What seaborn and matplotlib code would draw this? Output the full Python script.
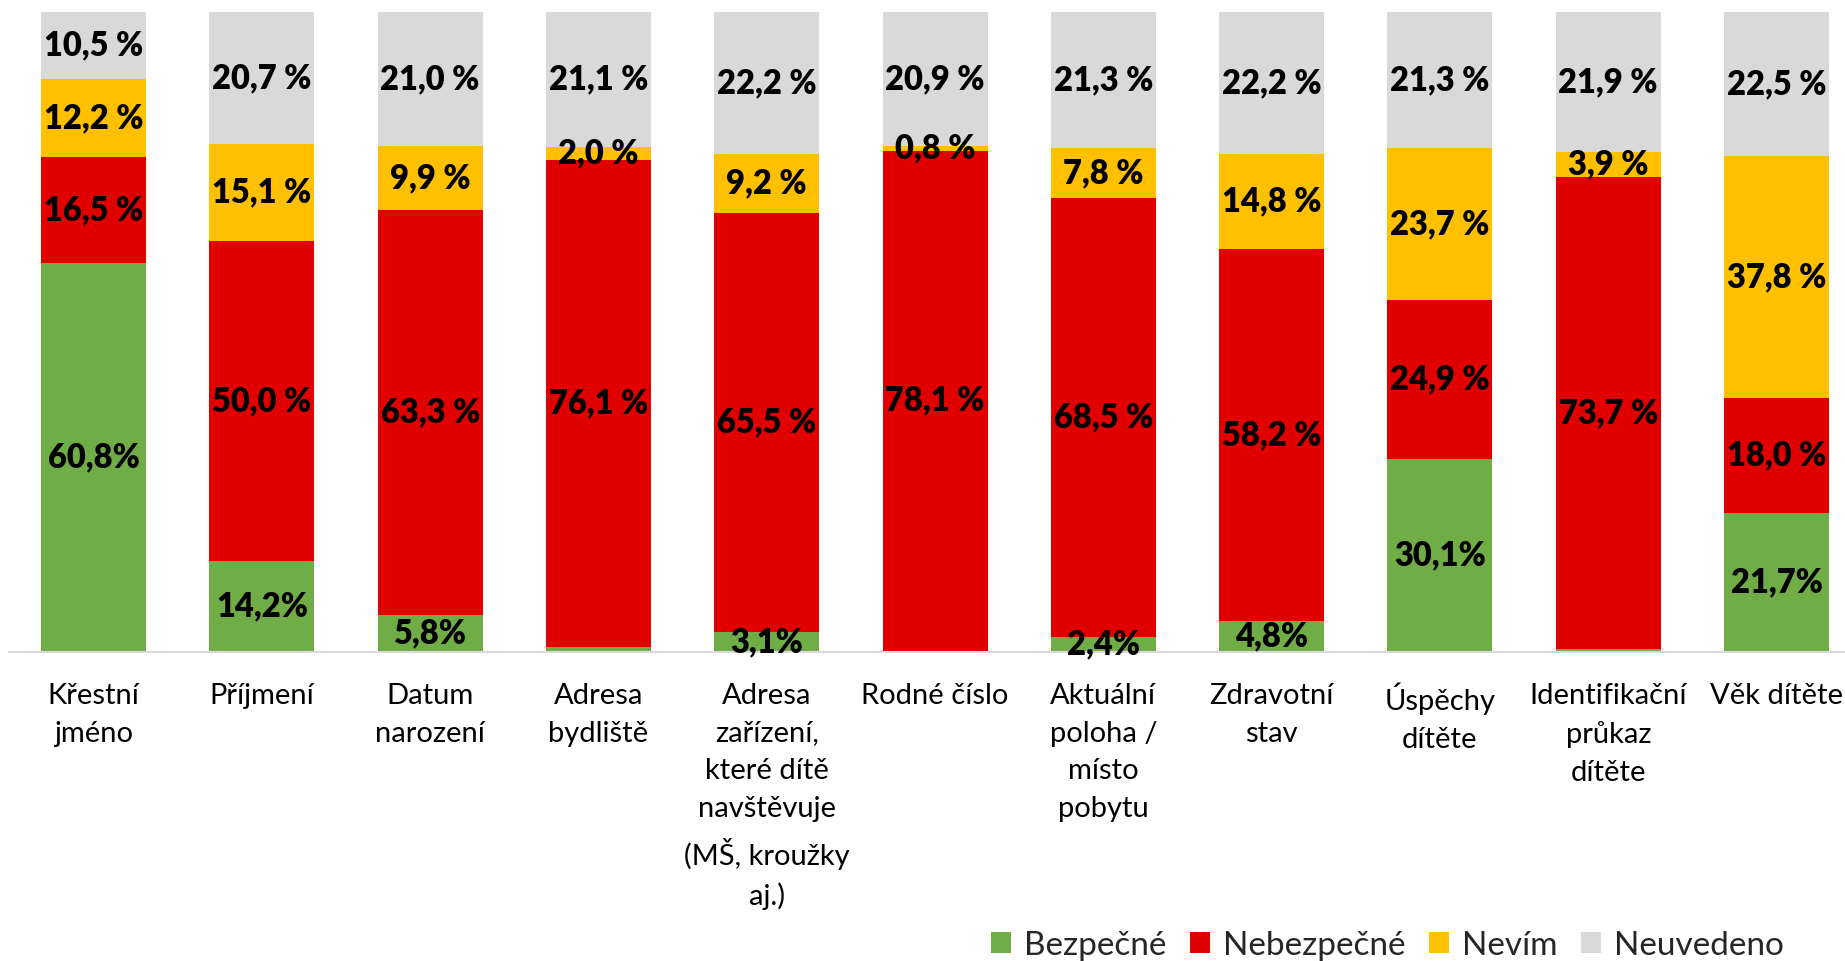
import matplotlib
matplotlib.use("Agg")
import matplotlib.pyplot as plt
import seaborn as sns
import numpy as np
import pandas as pd
from matplotlib.patches import Patch

categories = ["Křestní\njméno", "Příjmení", "Datum\nnarození", "Adresa\nbydliště",
              "Adresa\nzařízení,\nkteré dítě\nnavštěvuje\n(MŠ, kroužky\naj.)",
              "Rodné číslo", "Aktuální\npoloha /\nmísto\npobytu", "Zdravotní\nstav",
              "Úspěchy\ndítěte", "Identifikační\nprůkaz\ndítěte", "Věk dítěte"]
bezpecne = [60.8, 14.2, 5.8, 0.8, 3.1, 0.2, 2.4, 4.8, 30.1, 0.5, 21.7]
nebezpecne = [16.5, 50.0, 63.3, 76.1, 65.5, 78.1, 68.5, 58.2, 24.9, 73.7, 18.0]
nevim = [12.2, 15.1, 9.9, 2.0, 9.2, 0.8, 7.8, 14.8, 23.7, 3.9, 37.8]
neuvedeno = [10.5, 20.7, 21.0, 21.1, 22.2, 20.9, 21.3, 22.2, 21.3, 21.9, 22.5]
series_names = ["Bezpečné", "Nebezpečné", "Nevím", "Neuvedeno"]
colors = ["#70AD47", "#E00000", "#FFC000", "#D9D9D9"]

sns.set_theme(style="white")
plt.rcParams['font.family'] = ['Lato', 'DejaVu Sans']

fig = plt.figure(figsize=(18.45, 9.61), dpi=100)
ax = fig.add_axes([9.4 / 1845, 1 - 652 / 961, 1851.3 / 1845, 640 / 961])

series = [bezpecne, nebezpecne, nevim, neuvedeno]
cum = np.cumsum(np.array(series), axis=0)
df = pd.DataFrame({"cat": categories})
for i in range(len(series) - 1, -1, -1):
    df["v"] = cum[i]
    sns.barplot(data=df, x="cat", y="v", color=colors[i], width=0.624,
                saturation=1, ax=ax, errorbar=None, linewidth=0)

# value labels
for i, vals in enumerate(series):
    for j, v in enumerate(vals):
        center = cum[i][j] - v / 2
        if i == 0:
            if v < 1:
                continue
            txt = f"{v:.1f}%".replace(".", ",")
        else:
            txt = f"{v:.1f} %".replace(".", ",")
        ax.text(j, center, txt, ha="center", va="center", fontsize=23.5,
                fontweight="heavy", color="black")

ax.set_xlim(-0.5, 10.5)
ax.set_ylim(0, 100)
ax.set_yticks([])
ax.set_ylabel("")
ax.set_xlabel("")
for s in ["top", "left", "right"]:
    ax.spines[s].set_visible(False)
ax.spines["bottom"].set_color("#D9D9D9")
ax.spines["bottom"].set_linewidth(1.5)

ax.set_xticks(range(len(categories)))
ax.set_xticklabels(categories, fontsize=21, linespacing=1.57, va="top")
ax.tick_params(axis="x", which="major", length=0, pad=22, colors="black")
ax.set_xticks(np.arange(-0.5, len(categories) + 0.5, 1), minor=True)
ax.tick_params(axis="x", which="minor", length=8, width=1, color="#D9D9D9")

handles = [Patch(facecolor=c, edgecolor="none") for c in colors]
fig.legend(handles, series_names, loc="center", bbox_to_anchor=(0.752, 0.016),
           ncol=4, frameon=False, fontsize=24, handlelength=0.6, handleheight=0.6,
           handletextpad=0.4, columnspacing=0.7)

fig.savefig("out.png", dpi=100)
